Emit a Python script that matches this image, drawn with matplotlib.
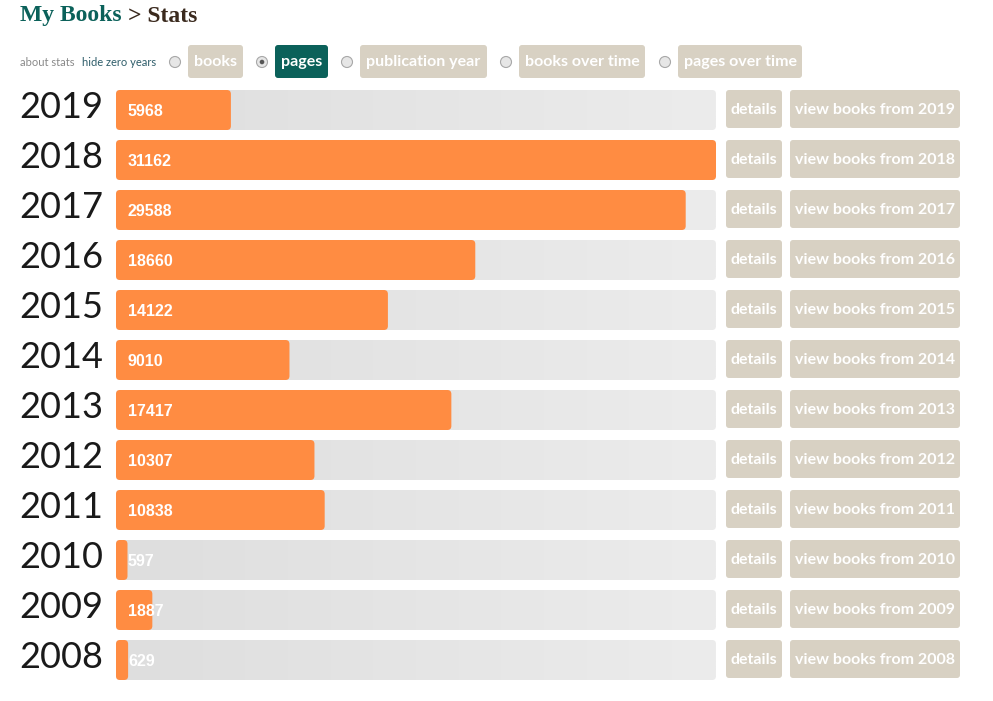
import numpy as np
import matplotlib
matplotlib.use("Agg")
import matplotlib.pyplot as plt
from matplotlib.patches import FancyBboxPatch, Circle
from matplotlib.transforms import offset_copy

# Données : pages lues par année
years = [2019, 2018, 2017, 2016, 2015, 2014, 2013, 2012, 2011, 2010, 2009, 2008]
pages = [5968, 31162, 29588, 18660, 14122, 9010, 17417, 10307, 10838, 597, 1887, 629]
tabs = ["books", "pages", "publication year", "books over time", "pages over time"]
selected_tab = "pages"

ORANGE = "#ff8c42"
BEIGE = "#d8d1c3"
TEAL = "#0b615a"

W, H = 993, 701
fig = plt.figure(figsize=(W / 100, H / 100), dpi=100)
fig.patch.set_facecolor("white")

# Axe en pixels pour l'interface (boutons, titre)
ui = fig.add_axes([0, 0, 1, 1])
ui.set_xlim(0, W)
ui.set_ylim(H, 0)
ui.axis("off")

# Titre
t1 = ui.text(20, 16, "My Books", fontsize=17, fontweight="bold", family="Liberation Serif",
             color=TEAL, va="center", ha="left")
fig.canvas.draw()
bb = t1.get_window_extent()
inv = ui.transData.inverted()
x_end = inv.transform((bb.x1, bb.y0))[0]
ui.text(x_end + 6, 16, "> Stats", fontsize=17, fontweight="bold", family="Liberation Serif",
        color="#3b2a1e", va="center", ha="left")

# Liens
ui.text(20, 62, "about stats", fontsize=8, family="Lato", color="#8a8a8a", va="center")
ui.text(82, 62, "hide zero years", fontsize=8, family="Lato", color="#2e5d6a", va="center")

# Onglets
tab_x = [(188, 243), (275, 328), (360, 487), (519, 645), (678, 802)]
for name, (x0, x1) in zip(tabs, tab_x):
    cx = x0 - 13
    ui.add_patch(Circle((cx, 62), 5.5, facecolor="#e6e6e6", edgecolor="#a8a8a8", lw=0.8))
    if name == selected_tab:
        ui.add_patch(Circle((cx, 62), 2.3, facecolor="#555555", edgecolor="none"))
    col = TEAL if name == selected_tab else BEIGE
    ui.add_patch(FancyBboxPatch((x0, 45), x1 - x0, 33, boxstyle="round,pad=0,rounding_size=3",
                                facecolor=col, edgecolor="none"))
    ui.text((x0 + x1) / 2, 62, name, fontsize=11.5, fontweight="bold", family="Lato",
            color="white", ha="center", va="center")

# Axe des barres
vmax = max(pages)
ax = fig.add_axes([116 / W, (H - 685) / H, 600 / W, 600 / H])
ax.set_xlim(0, vmax)
ax.set_ylim(len(years) - 0.5, -0.5)
for s in ax.spines.values():
    s.set_visible(False)
ax.set_xticks([])
ax.set_yticks(range(len(years)))
ax.set_yticklabels([str(y) for y in years], fontsize=26, family="Lato", fontweight="normal",
                   color="#1a1a1a")
ax.tick_params(axis="y", length=0, pad=9)
for lab in ax.get_yticklabels():
    lab.set_transform(offset_copy(lab.get_transform(), fig=fig, x=0, y=5, units="dots"))

xpx = vmax / 600.0
ypx = 1 / 50.0
aspect = ypx / xpx
grad = np.linspace(0, 1, 256).reshape(1, -1)
cmap = matplotlib.colors.LinearSegmentedColormap.from_list("track", ["#dedede", "#ececec"])

for i, v in enumerate(pages):
    track = FancyBboxPatch((0, i - 0.4), vmax, 0.8,
                           boxstyle="round,pad=0,rounding_size=%f" % (4 * xpx),
                           mutation_aspect=aspect, facecolor="none", edgecolor="none")
    ax.add_patch(track)
    im = ax.imshow(grad, extent=(0, vmax, i + 0.4, i - 0.4), aspect="auto", cmap=cmap,
                   zorder=1)
    im.set_clip_path(track)
    bar = FancyBboxPatch((0, i - 0.4), v, 0.8,
                         boxstyle="round,pad=0,rounding_size=%f" % (min(4 * xpx, v / 2)),
                         mutation_aspect=aspect, facecolor=ORANGE, edgecolor="none", zorder=2)
    ax.add_patch(bar)
    ax.annotate(str(v), xy=(0, i), xytext=(12, -1), textcoords="offset pixels",
                fontsize=11.5, fontweight="bold", family="Liberation Sans", color="white",
                va="center", ha="left", zorder=3)

# Boutons à droite
for i, y in enumerate(years):
    cy = 110 + 50 * i
    ui.add_patch(FancyBboxPatch((726, cy - 20), 56, 38, boxstyle="round,pad=0,rounding_size=3",
                                facecolor=BEIGE, edgecolor="none"))
    ui.text(754, cy - 0.5, "details", fontsize=11.5, fontweight="bold", family="Lato",
            color="white", ha="center", va="center")
    ui.add_patch(FancyBboxPatch((790, cy - 20), 170, 38, boxstyle="round,pad=0,rounding_size=3",
                                facecolor=BEIGE, edgecolor="none"))
    ui.text(875, cy - 0.5, "view books from %d" % y, fontsize=11.5, fontweight="bold",
            family="Lato", color="white", ha="center", va="center")

fig.savefig("out.png", dpi=100)
